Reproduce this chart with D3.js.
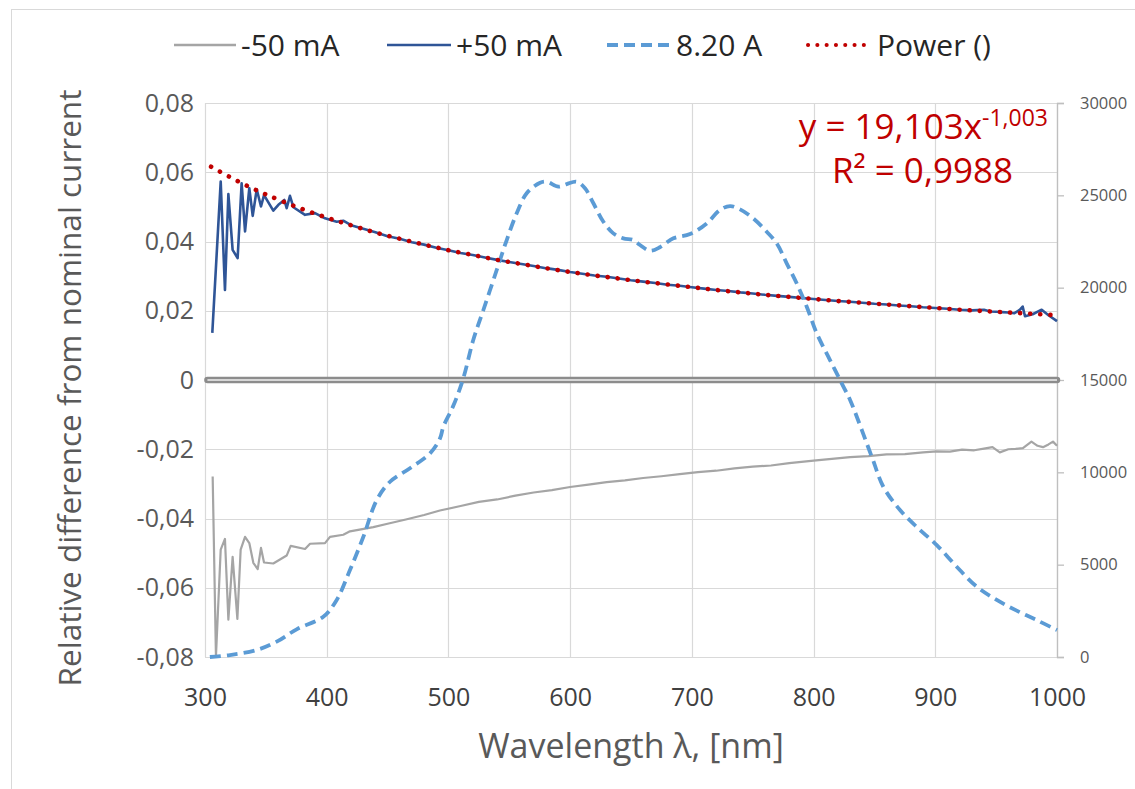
<!DOCTYPE html>
<html>
<head>
<meta charset="utf-8">
<script src="https://cdn.jsdelivr.net/npm/d3@7"></script>
<style>
  html, body { margin: 0; padding: 0; background: #fff; }
  svg { display: block; }
</style>
</head>
<body>
<svg id="chart" width="1135" height="789"></svg>
<script>
// ---------------- DATA ----------------
const xTicks = [300, 400, 500, 600, 700, 800, 900, 1000];
const yLeftTicks = [-0.08, -0.06, -0.04, -0.02, 0, 0.02, 0.04, 0.06, 0.08];
const yRightTicks = [0, 5000, 10000, 15000, 20000, 25000, 30000];
const legendLabels = ["-50 mA", "+50 mA", "8.20 A", "Power ()"];

// +50 mA
const wlPlus = [306, 312.9, 316.4, 319.2, 322.7, 326.8, 330.1, 332.9, 336.4, 339.2, 342.5, 346, 348.5, 356.1, 360.3, 365.2, 367.1, 369.8, 372.6, 382.2, 390.4, 398.6, 408.2, 413.6,
  420, 430, 440, 450, 460, 470, 480, 490, 500, 510, 520, 530, 540, 550, 560, 570, 580, 590, 600, 610, 620, 630, 640, 650, 660, 670, 680, 690, 700, 710, 720, 730, 740, 750, 760, 770, 780, 790, 800, 810, 820, 830, 840, 850, 860, 870, 880, 890, 900, 910, 920, 930, 940, 945, 950, 955, 960, 965, 969.6, 971.8, 973.7, 980, 987.4, 993, 1000];
const plus50 = [0.0136, 0.0573, 0.0260, 0.0537, 0.0376, 0.0352, 0.0568, 0.0429, 0.0554, 0.0474, 0.0551, 0.0501, 0.0534, 0.0489, 0.0506, 0.0520, 0.0496, 0.0532, 0.0499, 0.0477, 0.0482, 0.0467, 0.0457, 0.0460,
  0.0447, 0.0437, 0.0427, 0.0415, 0.0408, 0.0398, 0.0391, 0.0382, 0.0375, 0.0367, 0.0361, 0.0354, 0.0347, 0.0341, 0.0335, 0.0329, 0.0323, 0.0318, 0.0312, 0.0307, 0.0302, 0.0298, 0.0293, 0.0288, 0.0284, 0.0280, 0.0275, 0.0272, 0.0268, 0.0264, 0.0260, 0.0257, 0.0253, 0.0250, 0.0246, 0.0243, 0.0240, 0.0237, 0.0234, 0.0231, 0.0228, 0.0226, 0.0223, 0.0220, 0.0218, 0.0215, 0.0213, 0.0210, 0.0208, 0.0206, 0.0203, 0.0201, 0.0203, 0.0198, 0.0197, 0.0196, 0.0195, 0.0193, 0.0203, 0.0212, 0.0184, 0.0190, 0.0203, 0.0187, 0.0170];

// -50 mA
const wlMinus = [306.3, 309, 312.9, 316.4, 319.2, 322.7, 326.6, 329.3, 332.9, 336.4, 339.7, 343.3, 346, 348.5, 356.1, 367.1, 370.4, 382.2, 386.3, 398.6, 402.7, 413.6, 419.1, 438.3,
  450, 465, 480, 493, 510, 525, 540, 555, 570, 585, 600, 615, 630, 645, 660, 675, 690, 705, 720, 735, 750, 765, 780, 800, 815, 830, 845, 860, 875, 890, 901, 912, 922, 932, 940, 947, 953, 960, 966, 972, 979, 984, 988.5, 993, 996.7, 1000];
const minus50 = [-0.0279, -0.0798, -0.0490, -0.0459, -0.0692, -0.0511, -0.0690, -0.0490, -0.0453, -0.0471, -0.0528, -0.0546, -0.0485, -0.0527, -0.0530, -0.0507, -0.0479, -0.0488, -0.0473, -0.0471, -0.0453, -0.0447, -0.0437, -0.0425,
  -0.0415, -0.0403, -0.0390, -0.0377, -0.0364, -0.0352, -0.0345, -0.0334, -0.0325, -0.0318, -0.0309, -0.0302, -0.0295, -0.0290, -0.0283, -0.0278, -0.0272, -0.0266, -0.0262, -0.0255, -0.0250, -0.0247, -0.0240, -0.0233, -0.0228, -0.0223, -0.0220, -0.0215, -0.0214, -0.0209, -0.0206, -0.0207, -0.0201, -0.0203, -0.0198, -0.0194, -0.0209, -0.0200, -0.0199, -0.0197, -0.0178, -0.0190, -0.0194, -0.0186, -0.0178, -0.0190];

// 8.20 A (secondary axis)
const wlLamp = [304, 320.5, 342.5, 358.9, 375.3, 397.2, 408.2, 419.1, 430.1, 441.1, 452, 468.4, 484.9, 493.1, 495.8, 504, 512.2, 520.4, 528.7, 539.7, 547.9, 556.1, 564.3, 575.3, 580.7, 590.3, 597.2, 605.4, 612.2, 619.1, 627.3, 635.5, 643.7, 651.9, 657.4, 665.6, 673.8, 684.8, 698.5, 712.2, 723.1, 731.4, 739.6, 750.5, 761.5, 769.7, 777.9, 786.1, 794.4, 802.6, 813.5, 824.5, 830, 847.8, 857.3, 871, 884.8, 901.2, 917.6, 934, 950.5, 966.9, 983.3, 1000];
const lamp820 = [0, 108, 380, 830, 1500, 2180, 3090, 4710, 6510, 8500, 9490, 10220, 11030, 11840, 12470, 13600, 15090, 17170, 18790, 20960, 22580, 24030, 25110, 25680, 25740, 25470, 25610, 25740, 25380, 24570, 23570, 22940, 22670, 22580, 22310, 22000, 22190, 22670, 22900, 23480, 24210, 24420, 24240, 23750, 23030, 22400, 21320, 20240, 18970, 17530, 16080, 14640, 13920, 10850, 9220, 7960, 7040, 6060, 4890, 3810, 3090, 2510, 2000, 1460];

// Power trendline (as drawn)
const wlFit = [305, 320, 335, 350, 375, 400, 420, 440, 460, 480, 500, 520, 540, 560, 580, 600, 620, 640, 660, 680, 700, 720, 740, 760, 780, 800, 820, 840, 860, 880, 900, 920, 940, 960, 980, 1000];
const powerFit = [0.0616, 0.0587, 0.0560, 0.0536, 0.0500, 0.0469, 0.0447, 0.0426, 0.0408, 0.0391, 0.0375, 0.0361, 0.0347, 0.0335, 0.0323, 0.0312, 0.0302, 0.0293, 0.0284, 0.0276, 0.0268, 0.0260, 0.0253, 0.0246, 0.0240, 0.0234, 0.0228, 0.0223, 0.0218, 0.0213, 0.0208, 0.0203, 0.0199, 0.0195, 0.0191, 0.0187];

const eqMain = "y = 19,103x";
const eqExp = "-1,003";
const r2Text = "R² = 0,9988";
const xTitle = "Wavelength λ, [nm]";
const yTitle = "Relative difference from nominal current";

// ---------------- CHART ----------------
const svg = d3.select("#chart");
const L = 205, R = 1057, T = 103, B = 657;
const FONT = "'Open Sans', sans-serif";

const x = d3.scaleLinear().domain([300, 1000]).range([L, R]);
const yL = d3.scaleLinear().domain([-0.08, 0.08]).range([B, T]);
const yR = d3.scaleLinear().domain([0, 30000]).range([B, T]);

// chart border
svg.append("rect").attr("x", 11.5).attr("y", 9.5).attr("width", 1140).attr("height", 800)
  .attr("fill", "none").attr("stroke", "#d9d9d9").attr("stroke-width", 1);

// gridlines
const grid = svg.append("g");
grid.selectAll("line.h").data(yLeftTicks).join("line")
  .attr("x1", L).attr("x2", R).attr("y1", d => Math.round(yL(d)) + 0.5).attr("y2", d => Math.round(yL(d)) + 0.5)
  .attr("stroke", "#d9d9d9").attr("stroke-width", 1.2);
grid.selectAll("line.v").data(xTicks).join("line")
  .attr("y1", T).attr("y2", B).attr("x1", d => Math.round(x(d)) + 0.5).attr("x2", d => Math.round(x(d)) + 0.5)
  .attr("stroke", "#d9d9d9").attr("stroke-width", 1.2);

// left axis labels
const fmtL = v => v === 0 ? "0" : v.toFixed(2).replace(".", ",");
const axL = svg.append("g").attr("transform", `translate(${L},0)`)
  .call(d3.axisLeft(yL).tickValues(yLeftTicks).tickFormat(fmtL).tickSize(0).tickPadding(11));
axL.select(".domain").remove();
axL.selectAll("text").attr("font-family", FONT).attr("font-size", 25).attr("fill", "#595959");

// bottom axis labels
const axB = svg.append("g").attr("transform", `translate(0,${B})`)
  .call(d3.axisBottom(x).tickValues(xTicks).tickFormat(d3.format("d")).tickSize(0).tickPadding(31));
axB.select(".domain").remove();
axB.selectAll("text").attr("font-family", FONT).attr("font-size", 25).attr("fill", "#404040");

// right axis
const axR = svg.append("g").attr("transform", `translate(${R},0)`)
  .call(d3.axisRight(yR).tickValues(yRightTicks).tickFormat(d3.format("d")).tickSize(7).tickPadding(16));
axR.select(".domain").attr("stroke", "#bfbfbf").attr("stroke-width", 1.3);
axR.selectAll(".tick line").attr("stroke", "#bfbfbf").attr("stroke-width", 1.3);
axR.selectAll("text").attr("font-family", FONT).attr("font-size", 16.5).attr("fill", "#595959");

// axis titles
svg.append("text").attr("x", 631).attr("y", 758).attr("text-anchor", "middle")
  .attr("font-family", FONT).attr("font-size", 34).attr("fill", "#595959").text(xTitle);
svg.append("text").attr("transform", `translate(81,${(T + B) / 2 + 8}) rotate(-90)`).attr("text-anchor", "middle")
  .attr("font-family", FONT).attr("font-size", 31.5).attr("fill", "#595959").text(yTitle);

// series
const lineL = (xs, ys) => d3.line().x((d, i) => x(xs[i])).y((d, i) => yL(ys[i]))(ys);
const lineR = (xs, ys) => d3.line().x((d, i) => x(xs[i])).y((d, i) => yR(ys[i])).curve(d3.curveCatmullRom)(ys);

svg.append("path").attr("d", lineL(wlMinus, minus50)).attr("fill", "none")
  .attr("stroke", "#a5a5a5").attr("stroke-width", 2.2).attr("stroke-linejoin", "round");

// zero baseline
svg.append("path").attr("d", `M${x(302)},${yL(0)}L${x(1000)},${yL(0)}`)
  .attr("stroke", "#8c8c8c").attr("stroke-width", 6.5).attr("stroke-linecap", "round").attr("fill", "none");
svg.append("path").attr("d", `M${x(302)},${yL(0)}L${x(1000)},${yL(0)}`)
  .attr("stroke", "#d6d6d6").attr("stroke-width", 2.2).attr("fill", "none");

svg.append("path").attr("d", lineL(wlPlus, plus50)).attr("fill", "none")
  .attr("stroke", "#2f5597").attr("stroke-width", 2.6).attr("stroke-linejoin", "round");

svg.append("path").attr("d", lineR(wlLamp, lamp820)).attr("fill", "none")
  .attr("stroke", "#5b9bd5").attr("stroke-width", 3.8).attr("stroke-dasharray", "11,6");

svg.append("path")
  .attr("d", d3.line().x((d, i) => x(wlFit[i])).y((d, i) => yL(powerFit[i])).curve(d3.curveCatmullRom)(powerFit))
  .attr("fill", "none").attr("stroke", "#c00000").attr("stroke-width", 4.6)
  .attr("stroke-linecap", "round").attr("stroke-dasharray", "0.1,10");

// equation
const eq = svg.append("text").attr("x", 1048).attr("y", 139).attr("text-anchor", "end")
  .attr("font-family", FONT).attr("font-size", 35).attr("fill", "#c00000");
eq.append("tspan").text(eqMain);
eq.append("tspan").attr("font-size", 23).attr("dy", -13).text(eqExp);
svg.append("text").attr("x", 1013).attr("y", 183).attr("text-anchor", "end")
  .attr("font-family", FONT).attr("font-size", 35).attr("fill", "#c00000").text(r2Text);

// legend
const legItems = [
  { x1: 174, x2: 236, tx: 241, color: "#a5a5a5", w: 2.6, dash: null, cap: "butt" },
  { x1: 387, x2: 451, tx: 456, color: "#2f5597", w: 2.6, dash: null, cap: "butt" },
  { x1: 607, x2: 672, tx: 676, color: "#5b9bd5", w: 3.8, dash: "11,6", cap: "butt" },
  { x1: 808, x2: 872, tx: 877, color: "#c00000", w: 4, dash: "0.1,9.2", cap: "round" }
];
const leg = svg.append("g");
legItems.forEach((it, i) => {
  leg.append("line").attr("x1", it.x1).attr("x2", it.x2).attr("y1", 45).attr("y2", 45)
    .attr("stroke", it.color).attr("stroke-width", it.w).attr("stroke-dasharray", it.dash).attr("stroke-linecap", it.cap);
  leg.append("text").attr("x", it.tx).attr("y", 56).attr("font-family", FONT)
    .attr("font-size", 30).attr("fill", "#262626").text(legendLabels[i]);
});
</script>
</body>
</html>
